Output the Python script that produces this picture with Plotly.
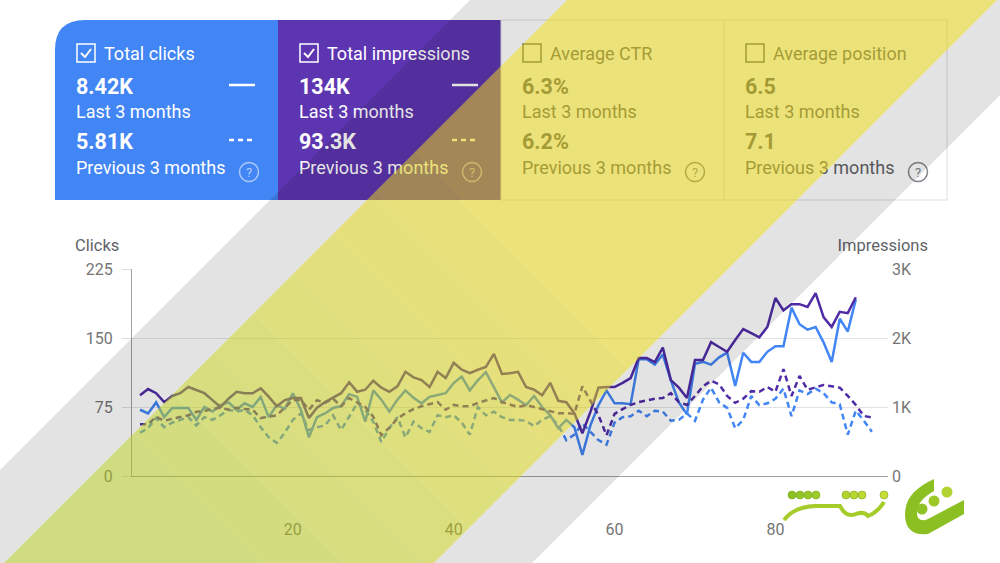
"""
Search Console style performance chart: clicks and impressions,
last 3 months vs previous 3 months, with the diagonal stripe overlay.
"""
import plotly.graph_objects as go

# x axis: day index inside each 3 month period
days_last = list(range(1, 91))
days_prev = list(range(1, 93))

# clicks, last 3 months (left axis)
clicks_last = [72, 68, 80, 64, 74, 74, 74, 61, 75, 70,
               77, 80, 72, 79, 75, 86, 64, 77, 73, 90,
               72, 42, 64, 68, 74, 76, 89, 86, 59, 93,
               83, 70, 83, 93, 85, 79, 86, 88, 90, 101,
               108, 93, 104, 113, 96, 80, 88, 83, 77, 87,
               75, 66, 52, 61, 53, 23, 55, 77, 93, 79,
               79, 78, 127, 127, 121, 132, 104, 80, 67, 122,
               124, 121, 129, 134, 98, 134, 124, 124, 135, 141,
               141, 183, 165, 159, 162, 145, 124, 171, 157, 192]

# clicks, previous 3 months (left axis)
clicks_prev = [47, 52, 63, 53, 58, 61, 64, 55, 64, 61,
               66, 72, 70, 72, 66, 53, 42, 36, 47, 61,
               68, 50, 53, 55, 66, 50, 64, 79, 72, 59,
               37, 52, 64, 42, 59, 52, 48, 66, 64, 66,
               58, 45, 75, 66, 70, 64, 61, 61, 60, 54,
               61, 65, 55, 39, 45, 57, 48, 39, 34, 58,
               64, 65, 71, 65, 71, 70, 60, 61, 68, 60,
               83, 96, 80, 74, 52, 61, 87, 77, 79, 84,
               95, 65, 93, 89, 95, 90, 80, 78, 45, 71,
               60, 48]

# impressions, last 3 months (right axis)
impr_last = [1170, 1260, 1200, 1070, 1160, 1200, 1290, 1250, 1200, 1100,
             1000, 1120, 1220, 1200, 1200, 1270, 1150, 1010, 1100, 1130,
             1130, 840, 990, 1070, 1130, 1200, 1360, 1220, 1250, 1380,
             1280, 1220, 1300, 1510, 1430, 1390, 1290, 1510, 1420, 1640,
             1540, 1490, 1540, 1580, 1770, 1480, 1490, 1510, 1290, 1250,
             1170, 1350, 1090, 1070, 910, 620, 930, 1280, 1290, 1290,
             1350, 1420, 1710, 1710, 1650, 1860, 1390, 1280, 1130, 1680,
             1680, 1940, 1870, 1800, 1970, 2130, 2070, 2010, 2160, 2580,
             2400, 2490, 2490, 2450, 2650, 2300, 2160, 2380, 2360, 2590]

# impressions, previous 3 months (right axis)
impr_prev = [750, 750, 860, 800, 830, 860, 880, 930, 940, 970,
             990, 960, 990, 970, 960, 840, 860, 880, 990, 1100,
             1100, 960, 1100, 1060, 1120, 1010, 1130, 1060, 1000, 860,
             590, 700, 830, 910, 970, 1010, 1040, 1070, 960, 1030,
             1010, 1010, 1060, 1100, 1130, 1070, 1030, 1000, 1030, 1000,
             970, 930, 910, 910, 900, 1300, 1100, 880, 590, 900,
             970, 1030, 1070, 1100, 1120, 1130, 1200, 1070, 1030, 1160,
             1300, 1380, 1330, 1160, 1060, 1120, 1230, 1220, 1290, 1220,
             1550, 1160, 1450, 1250, 1290, 1320, 1300, 1280, 1160, 1030,
             870, 850]

# summary cards
card_titles = ['Total clicks', 'Total impressions', 'Average CTR', 'Average position']
card_last = ['8.42K', '134K', '6.3%', '6.5']
card_prev = ['5.81K', '93.3K', '6.2%', '7.1']
card_checked = [True, True, False, False]

# axes
click_ticks = [0, 75, 150, 225]
impr_ticks = [0, 1000, 2000, 3000]
impr_tick_text = ['0', '1K', '2K', '3K']
day_ticks = [20, 40, 60, 80]

BLUE = '#4285f4'
PURPLE_CARD = '#5e35b1'
PURPLE_LINE = '#4f2ca6'
GREY_TEXT = '#5f6368'
TICK_TEXT = '#757575'
FONT = 'Roboto'

W, H = 1000, 563
card_left = [55, 278, 501, 724]


def mix(c1, c2, f):
    a = [int(c1[i:i + 2], 16) for i in (1, 3, 5)]
    b = [int(c2[i:i + 2], 16) for i in (1, 3, 5)]
    return '#' + ''.join(f'{round(a[i] + (b[i] - a[i]) * f):02x}' for i in range(3))


def diag_band(s0, s1, t0, t1):
    # region with s0 <= x+y <= s1 and t0 <= x-y <= t1 (pixel space)
    pts = [(s0, t0), (s1, t0), (s1, t1), (s0, t1)]
    xy = [((s + t) / 2, (s - t) / 2) for s, t in pts]
    return 'M ' + ' L '.join(f'{x:.1f},{y:.1f}' for x, y in xy) + ' Z'


fig = go.Figure()

# chart lines
fig.add_trace(go.Scatter(x=days_last, y=clicks_last, mode='lines',
                         line=dict(color=BLUE, width=2.5), yaxis='y'))
fig.add_trace(go.Scatter(x=days_prev, y=clicks_prev, mode='lines',
                         line=dict(color=BLUE, width=2.5, dash='6px,4px'), yaxis='y'))
fig.add_trace(go.Scatter(x=days_last, y=impr_last, mode='lines',
                         line=dict(color=PURPLE_LINE, width=2.5), yaxis='y2'))
fig.add_trace(go.Scatter(x=days_prev, y=impr_prev, mode='lines',
                         line=dict(color=PURPLE_LINE, width=2.5, dash='6px,4px'), yaxis='y2'))

# card texts, drawn in a pixel-space overlay axis (x3 / y3)
text_cols = ['white' if c else GREY_TEXT for c in card_checked]
left_x = [x + 21 for x in card_left]
title_x = [x + 49 for x in card_left]


def add_text(xs, ys, texts, size, colors, pos='middle right'):
    fig.add_trace(go.Scatter(
        x=xs, y=ys, text=texts, mode='text', textposition=pos,
        textfont=dict(family=FONT, size=size, color=colors),
        xaxis='x3', yaxis='y3', hoverinfo='skip', cliponaxis=False))


add_text(title_x, [55] * 4, card_titles, 18, text_cols)
add_text(left_x, [89] * 4, [f'<b>{v}</b>' for v in card_last], 21.5, text_cols)
add_text(left_x, [113] * 4, ['Last 3 months'] * 4, 18, text_cols)
add_text(left_x, [144] * 4, [f'<b>{v}</b>' for v in card_prev], 21.5, text_cols)
add_text(left_x, [169] * 4, ['Previous 3 months'] * 4, 18, text_cols)
add_text([x + 194 for x in card_left], [173.5] * 4, ['?'] * 4, 13,
         ['rgba(255,255,255,0.6)'] * 2 + ['#80868b'] * 2, pos='middle center')
add_text([75], [247], ['Clicks'], 16.5, GREY_TEXT)
add_text([928], [247], ['Impressions'], 16.5, GREY_TEXT, pos='middle left')

shapes = []
px = dict(xref='x3', yref='y3')

# card backgrounds
shapes.append(dict(type='path', layer='below', **px,
                   path='M 55,200 L 55,50 Q 55,20 85,20 L 279,20 L 279,200 Z',
                   fillcolor=BLUE, line=dict(width=0)))
shapes.append(dict(type='rect', layer='below', **px, x0=278, x1=501, y0=20, y1=200,
                   fillcolor=PURPLE_CARD, line=dict(width=0)))
shapes.append(dict(type='rect', layer='below', **px, x0=501, x1=947, y0=20, y1=200,
                   fillcolor='white', line=dict(color='#dadce0', width=1)))
shapes.append(dict(type='line', layer='below', **px, x0=724, x1=724, y0=20, y1=200,
                   line=dict(color='#dadce0', width=1)))

for i, x in enumerate(card_left):
    col = 'white' if card_checked[i] else GREY_TEXT
    bx = x + 22
    shapes.append(dict(type='rect', layer='below', **px, x0=bx, x1=bx + 18, y0=44, y1=62,
                       line=dict(color=col, width=1.5), fillcolor='rgba(0,0,0,0)'))
    if card_checked[i]:
        shapes.append(dict(type='path', layer='below', **px,
                           path=f'M {bx + 4},{53} L {bx + 8},{57} L {bx + 14},{49}',
                           line=dict(color='white', width=2)))
        shapes.append(dict(type='line', layer='below', **px, x0=x + 174, x1=x + 200,
                           y0=85, y1=85, line=dict(color='white', width=2.5)))
        shapes.append(dict(type='line', layer='below', **px, x0=x + 174, x1=x + 200,
                           y0=140, y1=140, line=dict(color='white', width=2.5, dash='5px,4px')))
    ring = 'rgba(255,255,255,0.55)' if card_checked[i] else '#80868b'
    shapes.append(dict(type='circle', layer='below', **px, x0=x + 184.5, x1=x + 203.5,
                       y0=162.5, y1=181.5, line=dict(color=ring, width=1.5)))

# diagonal overlay stripes
shapes.append(dict(type='path', layer='above', **px, path=diag_band(470, 567, -700, 1200),
                   fillcolor='#000000', opacity=0.11, line=dict(width=0)))
shapes.append(dict(type='path', layer='above', **px, path=diag_band(997, 1095, -700, 1200),
                   fillcolor='#000000', opacity=0.11, line=dict(width=0)))
t_edges = [-700, -300, -220, -140, -60, 20, 100, 180, 260, 1200]
for k in range(len(t_edges) - 1):
    f = k / (len(t_edges) - 2)
    shapes.append(dict(type='path', layer='above', **px,
                       path=diag_band(567, 997, t_edges[k], t_edges[k + 1]),
                       fillcolor=mix('#aabf18', '#dcca0d', f), opacity=0.55,
                       line=dict(width=0)))

# logo mark
shapes.append(dict(type='path', layer='above', **px,
                   path='M 934,479 C 915,488 905,498 905,515 C 905,530 915,536 928,534 '
                        'L 964,514 L 964,500 L 928,519 C 921,522 917,519 917,513 '
                        'C 917,503 925,496 934,491 Z',
                   fillcolor='#8cbf22', line=dict(width=0)))
for cx, cy, c in [(922, 509, '#8fc226'), (934, 501, '#9cc82a'), (947, 492, '#b2d232')]:
    shapes.append(dict(type='circle', layer='above', **px, x0=cx - 5.5, x1=cx + 5.5,
                       y0=cy - 5.5, y1=cy + 5.5, fillcolor=c, line=dict(width=0)))
shapes.append(dict(type='path', layer='above', **px,
                   path='M 784,520 Q 794,507 815,506 L 840,506 Q 846,518 856,514 '
                        'Q 864,511 868,516 Q 878,512 884,502',
                   line=dict(color='#a6cc2c', width=4)))
for cx, c in [(792, '#8cc224'), (800, '#92c526'), (808, '#98c828'), (816, '#9ecb2a'),
              (846, '#b2d32e'), (854, '#b8d630'), (862, '#bed832'), (884, '#cadd36')]:
    shapes.append(dict(type='circle', layer='above', **px, x0=cx - 4, x1=cx + 4,
                       y0=491, y1=499, fillcolor=c, line=dict(color='#7da81c', width=0.6)))

fig.update_layout(
    autosize=True,
    margin=dict(l=0, r=0, t=0, b=0, pad=0),
    paper_bgcolor='white', plot_bgcolor='rgba(0,0,0,0)',
    showlegend=False, hovermode=False,
    font=dict(family=FONT, color=TICK_TEXT),
    shapes=shapes,
    xaxis=dict(domain=[132 / W, 888 / W], range=[0, 94], tickvals=day_ticks,
               showgrid=False, zeroline=False, showline=True, linecolor='#a0a0a0',
               linewidth=1, ticks='', ticklabelstandoff=39, automargin=False,
               tickfont=dict(size=16, color=TICK_TEXT), anchor='y'),
    yaxis=dict(domain=[1 - 476 / H, 1 - 269 / H], range=[0, 225], tickvals=click_ticks,
               showgrid=True, gridcolor='#e3e3e3', zeroline=False, showline=True,
               linecolor='#a0a0a0', ticks='outside', ticklen=9, tickcolor='#dcdcdc',
               ticklabelstandoff=6, automargin=False,
               tickfont=dict(size=16, color=TICK_TEXT), anchor='x'),
    yaxis2=dict(overlaying='y', side='right', range=[0, 3000], tickvals=impr_ticks,
                ticktext=impr_tick_text, showgrid=False, zeroline=False, showline=False,
                ticks='', ticklabelstandoff=3, automargin=False,
                tickfont=dict(size=16, color=TICK_TEXT), anchor='x'),
    xaxis3=dict(domain=[0, 1], range=[0, W], visible=False, anchor='y3', automargin=False),
    yaxis3=dict(domain=[0, 1], range=[H, 0], visible=False, anchor='x3', automargin=False),
)

# fill the browser window exactly (no body margin, no scrollbars)
fit_page = (
    "document.documentElement.style.margin='0';"
    "document.body.style.margin='0';"
    "document.body.style.overflow='hidden';"
    "Plotly.Plots.resize(document.getElementById('{plot_id}'));"
)

fig.write_html('out.html', config={'displayModeBar': False, 'responsive': True},
               default_width='100vw', default_height='100vh', post_script=fit_page)
